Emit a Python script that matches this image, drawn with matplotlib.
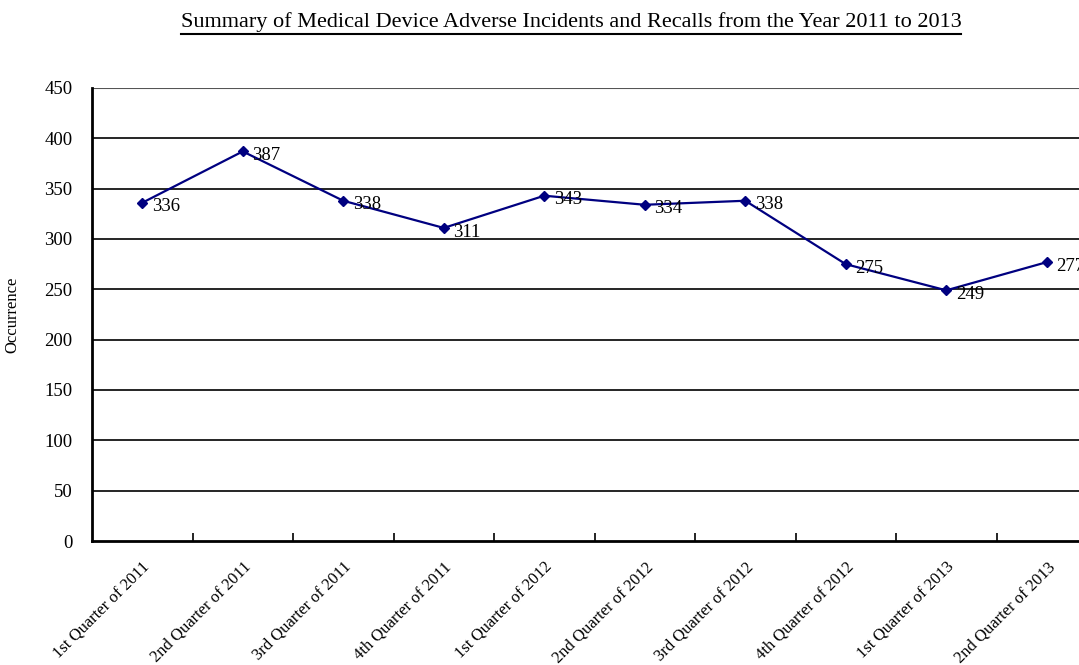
import matplotlib
matplotlib.use("Agg")
import matplotlib.pyplot as plt
from matplotlib.lines import Line2D

categories = ["1st Quarter of 2011", "2nd Quarter of 2011", "3rd Quarter of 2011",
              "4th Quarter of 2011", "1st Quarter of 2012", "2nd Quarter of 2012",
              "3rd Quarter of 2012", "4th Quarter of 2012", "1st Quarter of 2013",
              "2nd Quarter of 2013"]
values = [336, 387, 338, 311, 343, 334, 338, 275, 249, 277]
yticks = [0, 50, 100, 150, 200, 250, 300, 350, 400, 450]
title = "Summary of Medical Device Adverse Incidents and Recalls from the Year 2011 to 2013"

plt.rcParams['font.family'] = ['Liberation Serif', 'DejaVu Serif']

W, H = 1079, 665
fig = plt.figure(figsize=(W / 100, H / 100), dpi=100)
left, right, top, bottom = 92, 1097, 88, 541
ax = fig.add_axes([left / W, (H - bottom) / H, (right - left) / W, (bottom - top) / H])

x = list(range(len(categories)))
ax.set_xlim(-0.5, len(categories) - 0.5)
ax.set_ylim(0, 450)

for y in yticks[1:-1]:
    ax.axhline(y, color='black', lw=1.2, zorder=1)
ax.axhline(450, color='#555555', lw=1.5, zorder=1)

ax.plot(x, values, color='#000080', lw=1.6, marker='D', markersize=5.5, zorder=3)
for xi, v in zip(x, values):
    ax.annotate(str(v), (xi, v), xytext=(7, -3), textcoords='offset points',
                va='center', ha='left', fontsize=13.5, color='black', zorder=4)

for s in ['top', 'right']:
    ax.spines[s].set_visible(False)
ax.spines['left'].set_linewidth(2)
ax.spines['bottom'].set_linewidth(2)

ax.set_yticks(yticks)
ax.set_yticklabels([str(t) for t in yticks], fontsize=13.5)
ax.tick_params(axis='y', length=0, pad=14)

ax.set_xticks([i + 0.5 for i in x[:-1]])
ax.set_xticklabels([])
ax.tick_params(axis='x', direction='in', length=6, width=1.2)
ax.set_xticks(x, minor=True)
ax.set_xticklabels(categories, minor=True, rotation=45, ha='right',
                   rotation_mode='anchor', fontsize=12)
ax.tick_params(axis='x', which='minor', length=0, pad=13)

ax.set_ylabel("Occurrence", fontsize=12)
ax.yaxis.set_label_coords(-(92 - 20) / (right - left), 0.5)

t = fig.text(571 / W, 1 - 22 / H, title, ha='center', va='center', fontsize=16)
fig.canvas.draw()
bb = t.get_window_extent()
yline = (bb.y0 - 2) / H
fig.add_artist(Line2D([bb.x0 / W, bb.x1 / W], [yline, yline], color='black', lw=1.5,
                      transform=fig.transFigure))

fig.savefig("out.png", dpi=100)
